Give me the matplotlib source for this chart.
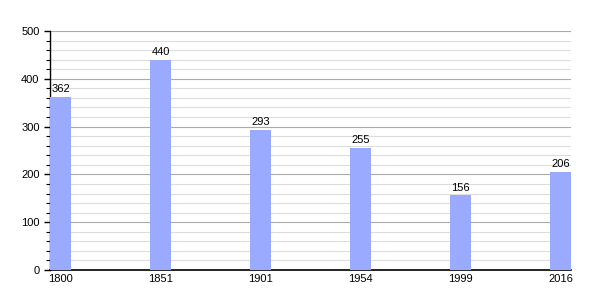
import numpy as np
import matplotlib
matplotlib.use('Agg')
import matplotlib.pyplot as plt

plt.rcParams['font.family'] = ['Liberation Sans', 'DejaVu Sans']

years = ['1800', '1851', '1901', '1954', '1999', '2016']
population = [362, 440, 293, 255, 156, 206]

fig = plt.figure(figsize=(6, 3), dpi=100)
ax = fig.add_axes([50/600, 30/300, 521/600, 239/300])

x = np.arange(len(years))
bw = 0.21
ax.bar(x, population, width=bw, align='edge', color='#99aaff', zorder=3)

for xi, v in zip(x, population):
    ax.text(xi + bw/2, v + 6, str(v), ha='center', va='bottom', fontsize=8, zorder=4)

ax.set_xlim(0, 5 + bw)
ax.set_ylim(0, 500)
ax.set_xticks(x + bw/2)
ax.set_xticklabels(years, fontsize=8)
ax.set_yticks(np.arange(0, 501, 100))
ax.set_yticks(np.arange(0, 501, 20), minor=True)
ax.tick_params(axis='y', labelsize=8, length=4, width=1)
ax.tick_params(axis='y', which='minor', length=3, width=0.8)
ax.tick_params(axis='x', length=0, pad=3)

ax.grid(axis='y', which='major', color='#aaaaaa', lw=0.8, zorder=0)
ax.grid(axis='y', which='minor', color='#dddddd', lw=0.8, zorder=0)

for s in ['top', 'right']:
    ax.spines[s].set_visible(False)
ax.spines['left'].set_linewidth(1)
ax.spines['bottom'].set_linewidth(1.2)

plt.savefig('out.png')
